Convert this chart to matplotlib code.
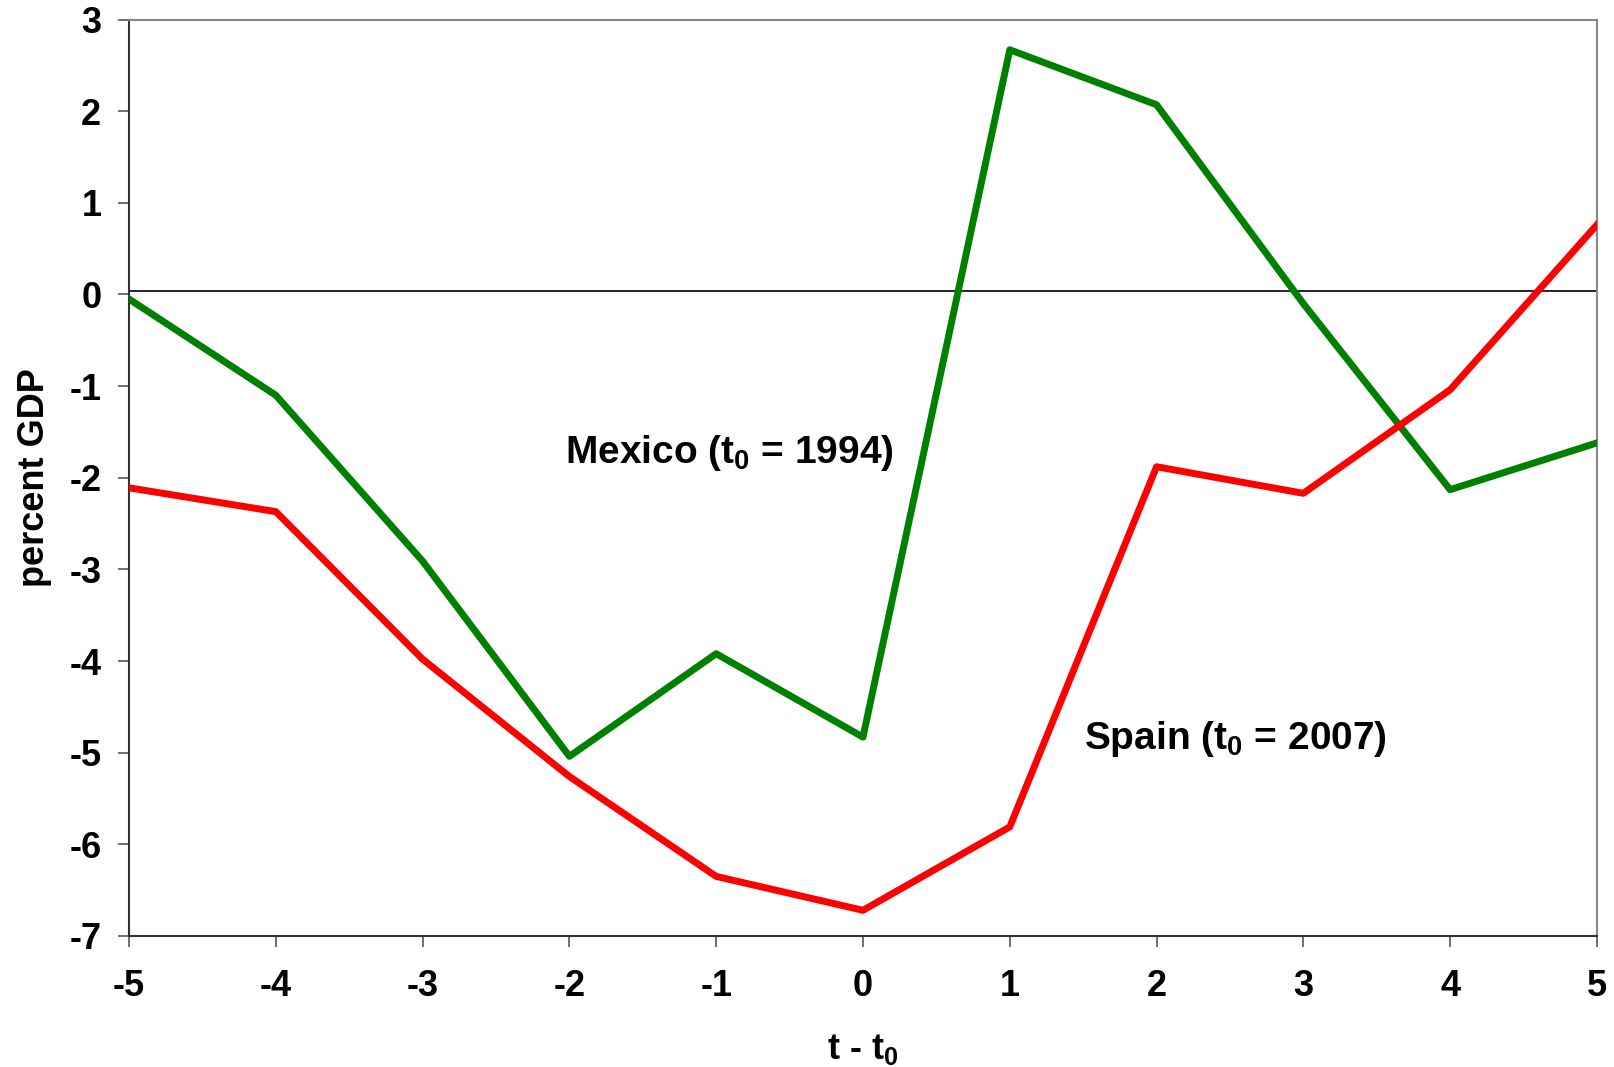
import matplotlib
matplotlib.use("Agg")
import matplotlib.pyplot as plt

plt.rcParams["font.family"] = ["Liberation Sans", "DejaVu Sans"]
plt.rcParams["font.weight"] = "bold"
plt.rcParams["axes.unicode_minus"] = False
plt.rcParams["mathtext.fontset"] = "custom"
plt.rcParams["mathtext.rm"] = "Liberation Sans:bold"
plt.rcParams["mathtext.it"] = "Liberation Sans:bold"
plt.rcParams["mathtext.bf"] = "Liberation Sans:bold"
plt.rcParams["mathtext.default"] = "rm"

years = [-5, -4, -3, -2, -1, 0, 1, 2, 3, 4, 5]
mexico = [-0.05, -1.10, -2.91, -5.04, -3.92, -4.83, 2.67, 2.07, -0.10, -2.13, -1.62]
spain = [-2.11, -2.37, -3.98, -5.26, -6.35, -6.72, -5.81, -1.88, -2.17, -1.04, 0.76]
y_ticks = [3, 2, 1, 0, -1, -2, -3, -4, -5, -6, -7]

fig = plt.figure(figsize=(16.15, 10.67), dpi=100)
ax = fig.add_axes([0.0799, 0.1228, 0.9089, 0.8589])

ax.axhline(0.04, color="black", linewidth=1.2, zorder=1)
ax.plot(years, mexico, color="#008000", linewidth=5, zorder=3)
ax.plot(years, spain, color="#ff0000", linewidth=5, zorder=3)

ax.text(-2.03, -1.73, r"Mexico (t$_0$ = 1994)", fontsize=28, fontweight="bold",
        va="center", ha="left")
ax.text(1.505, -4.85, r"Spain (t$_0$ = 2007)", fontsize=28, fontweight="bold",
        va="center", ha="left")

ax.set_xlim(-5, 5)
ax.set_ylim(-7, 3)
ax.set_xticks(years)
ax.set_yticks(y_ticks)
ax.tick_params(axis="both", direction="out", length=8, width=1.2, color="#555555",
               labelsize=26)
ax.tick_params(axis="x", pad=16)
ax.tick_params(axis="y", pad=12)
for lab in ax.get_xticklabels() + ax.get_yticklabels():
    lab.set_fontweight("bold")

for side in ["left", "bottom"]:
    ax.spines[side].set_color("#333333")
    ax.spines[side].set_linewidth(1.5)
for side in ["top", "right"]:
    ax.spines[side].set_color("#888888")
    ax.spines[side].set_linewidth(1.5)

ax.set_ylabel("percent GDP", fontsize=26, fontweight="bold", labelpad=12)
ax.set_xlabel(r"t - t$_0$", fontsize=26, fontweight="bold", labelpad=20)

fig.savefig("out.png", dpi=100)
